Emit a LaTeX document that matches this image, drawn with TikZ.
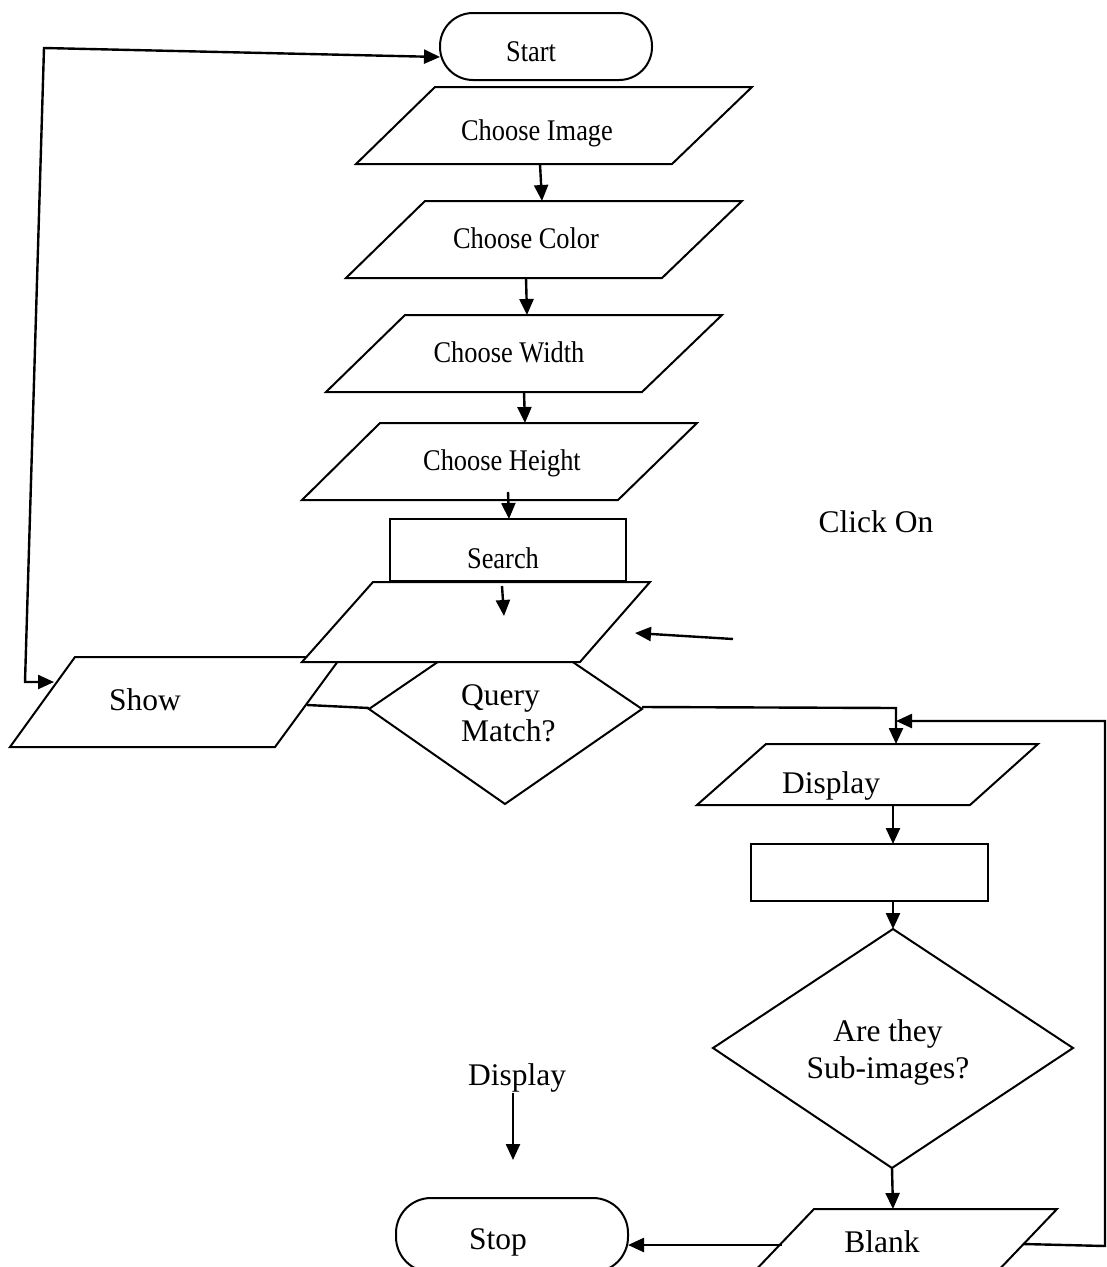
\documentclass[tikz,border=0pt]{standalone}
\usepackage{fontspec}
\setmainfont{Liberation Serif}
\usetikzlibrary{arrows.meta}
\newcommand{\narrowtxt}[1]{\scalebox{0.88}[1]{#1}}
\begin{document}
\begin{tikzpicture}[x=1pt,y=-1pt,
  shp/.style={draw=black, line width=2pt, fill=white, line join=miter},
  conn/.style={line width=2.4pt},
  tip/.tip={Triangle[length=16pt,width=14pt]},
  arr/.style={line width=2.4pt, -tip},
  small/.style={font=\fontsize{30}{34}\selectfont, inner sep=0pt, anchor=base},
  big/.style={font=\fontsize{31.5}{37}\selectfont, inner sep=0pt, anchor=base},
]
\useasboundingbox (0,0) rectangle (1107,1267);
\clip (0,0) rectangle (1107,1267);

% ---------- shapes ----------
\draw[shp, rounded corners=33pt] (440,13) rectangle (652,80);
\node[small] (start) at (531,61) {\narrowtxt{Start}};

\draw[shp] (435,87) -- (752,87) -- (672,164) -- (356,164) -- cycle;
\node[small] (cimg) at (537,140) {\narrowtxt{Choose Image}};

\draw[shp] (425,201) -- (742,201) -- (662,278) -- (346,278) -- cycle;
\node[small] (ccol) at (526,248) {\narrowtxt{Choose Color}};

\draw[shp] (405,315) -- (722,315) -- (642,392) -- (326,392) -- cycle;
\node[small] (cwid) at (509,362) {\narrowtxt{Choose Width}};

\draw[shp] (380,423) -- (697,423) -- (618,500) -- (302,500) -- cycle;
\node[small] (chei) at (502,470) {\narrowtxt{Choose Height}};

\draw[shp] (390,519) rectangle (626,581);
\node[small] (search) at (503,568) {\narrowtxt{Search}};

\draw[shp] (75,657) -- (341,657) -- (275,747) -- (10,747) -- cycle;
\node[big] (show) at (145,710) {Show};

\draw[shp] (505,616) -- (642,709) -- (505,804) -- (369,709) -- cycle;
\node[big, anchor=base west] (query) at (461,705) {Query};
\node[big, anchor=base west] (match) at (461,741) {Match?};

% middle blank parallelogram (covers Show corner and diamond top)
\draw[shp] (373,582) -- (650,582) -- (580,662) -- (302,662) -- cycle;

\node[big] (click) at (876,532) {Click On};

\draw[shp] (766,744) -- (1038,744) -- (970,805) -- (697,805) -- cycle;
\node[big] (disp1) at (831,793) {Display};

\draw[shp] (751,844) rectangle (988,901);

\draw[shp] (893,929) -- (1073,1048) -- (892,1168) -- (713,1048) -- cycle;
\node[big] (are) at (888,1041) {Are they};
\node[big] (sub) at (888,1078) {Sub-images?};

\draw[shp] (814,1209) -- (1057,1209) -- (972,1298) -- (729,1298) -- cycle;
\node[big] (blank) at (882,1252) {Blank};

\draw[shp, rounded corners=35pt] (396,1198) rectangle (628,1272);
\node[big] (stop) at (498,1249) {Stop};

\node[big] (disp2) at (517,1085) {Display};

% ---------- coordinates ----------
\coordinate (startW) at (440,57);
\coordinate (L1) at (44,48);
\coordinate (L2) at (25,682);
\coordinate (showW) at (54,682);
\coordinate (cimgS) at (540,164);
\coordinate (ccolN) at (542,201);
\coordinate (ccolS) at (526,278);
\coordinate (cwidN) at (527,315);
\coordinate (cwidS) at (524,392);
\coordinate (cheiN) at (525,423);
\coordinate (cheiS) at (508,492);
\coordinate (searchN) at (509,519);
\coordinate (inA) at (502,586);
\coordinate (inB) at (504,616);
\coordinate (clickA) at (733,639);
\coordinate (clickB) at (635,633);
\coordinate (showE) at (307,705);
\coordinate (queryW) at (369,708);
\coordinate (queryE) at (642,707);
\coordinate (J1) at (896,708);
\coordinate (disp1N) at (896,744);
\coordinate (blankE) at (1023,1244);
\coordinate (R1) at (1105,1246);
\coordinate (R2) at (1105,721);
\coordinate (R3) at (896,721);
\coordinate (disp1S) at (893,805);
\coordinate (rectN) at (893,844);
\coordinate (rectS) at (893,901);
\coordinate (subN) at (893,929);
\coordinate (subS) at (892,1168);
\coordinate (blankN) at (893,1209);
\coordinate (blankW) at (782,1245);
\coordinate (stopE) at (628,1245);
\coordinate (d2A) at (513,1093);
\coordinate (d2B) at (513,1160);

% ---------- connectors ----------
\draw[conn, tip-tip] (showW) -- (L2) -- (L1) -- (startW);
\draw[arr] (cimgS) -- (ccolN);
\draw[arr] (ccolS) -- (cwidN);
\draw[arr] (cwidS) -- (cheiN);
\draw[arr] (cheiS) -- (searchN);
\draw[arr] (inA) -- (inB);
\draw[arr] (clickA) -- (clickB);
\draw[conn] (showE) -- (queryW);
\draw[arr] (queryE) -- (J1) -- (disp1N);
\draw[arr] (blankE) -- (R1) -- (R2) -- (R3);
\draw[arr] (disp1S) -- (rectN);
\draw[arr] (rectS) -- (subN);
\draw[arr] (subS) -- (blankN);
\draw[arr] (blankW) -- (stopE);
\draw[arr] (d2A) -- (d2B);
\end{tikzpicture}
\end{document}
